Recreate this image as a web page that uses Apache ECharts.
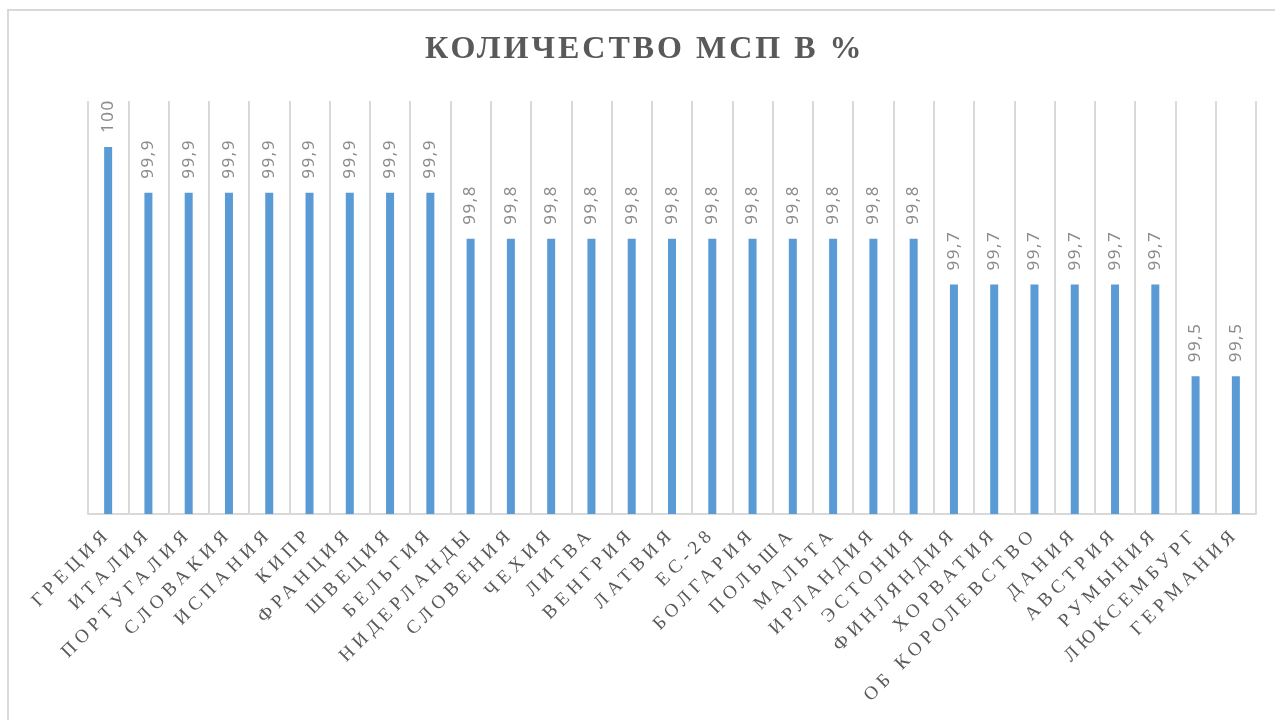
<!DOCTYPE html>
<html>
<head>
<meta charset="utf-8">
<script src="https://cdn.jsdelivr.net/npm/echarts@6/dist/echarts.min.js"></script>
<style>
html,body{margin:0;padding:0;background:#fff;}
#chart{width:1275px;height:720px;}
</style>
</head>
<body>
<div id="chart"></div>
<script>
const titleText = 'КОЛИЧЕСТВО МСП В %';
const categories = ['ГРЕЦИЯ','ИТАЛИЯ','ПОРТУГАЛИЯ','СЛОВАКИЯ','ИСПАНИЯ','КИПР','ФРАНЦИЯ','ШВЕЦИЯ','БЕЛЬГИЯ','НИДЕРЛАНДЫ','СЛОВЕНИЯ','ЧЕХИЯ','ЛИТВА','ВЕНГРИЯ','ЛАТВИЯ','ЕС-28','БОЛГАРИЯ','ПОЛЬША','МАЛЬТА','ИРЛАНДИЯ','ЭСТОНИЯ','ФИНЛЯНДИЯ','ХОРВАТИЯ','ОБ КОРОЛЕВСТВО','ДАНИЯ','АВСТРИЯ','РУМЫНИЯ','ЛЮКСЕМБУРГ','ГЕРМАНИЯ'];
const values = [100,99.9,99.9,99.9,99.9,99.9,99.9,99.9,99.9,99.8,99.8,99.8,99.8,99.8,99.8,99.8,99.8,99.8,99.8,99.8,99.8,99.7,99.7,99.7,99.7,99.7,99.7,99.5,99.5];

// letter spacing (as in the original Office chart) applied per font when text is drawn
(function () {
  const proto = CanvasRenderingContext2D.prototype;
  if (!('letterSpacing' in proto)) return;
  const orig = proto.fillText;
  proto.fillText = function (t, x, y, m) {
    const f = this.font || '';
    let ls = '0px';
    if (/Liberation Serif/.test(f) && /bold/.test(f)) ls = '3px';
    else if (/Liberation Serif/.test(f)) ls = '5px';
    else if (/Noto Sans/.test(f)) ls = '1.5px';
    this.letterSpacing = ls;
    return m === undefined ? orig.call(this, t, x, y) : orig.call(this, t, x, y, m);
  };
})();

const chart = echarts.init(document.getElementById('chart'));
chart.setOption({
  backgroundColor: '#ffffff',
  animation: false,
  graphic: [{
    type: 'rect',
    shape: {x: 8, y: 10, width: 1400, height: 900},
    style: {fill: 'none', stroke: '#d9d9d9', lineWidth: 2},
    silent: true,
    z: -1
  }],
  title: {
    text: titleText,
    left: 425,
    textAlign: 'left',
    top: 34,
    padding: 0,
    textStyle: {fontFamily: 'Liberation Serif', fontWeight: 'bold', fontSize: 32, color: '#595959'}
  },
  grid: {left: 88, right: 19, top: 101, bottom: 206, containLabel: false},
  xAxis: {
    type: 'category',
    data: categories,
    axisLine: {show: true, lineStyle: {color: '#d9d9d9', width: 2}},
    axisTick: {show: false},
    splitLine: {show: true, lineStyle: {color: '#d9d9d9', width: 2}},
    axisLabel: {
      interval: 0,
      rotate: 45,
      margin: 17,
      fontFamily: 'Liberation Serif',
      fontSize: 19,
      color: '#595959'
    }
  },
  yAxis: {
    type: 'value',
    min: 99.2,
    max: 100.1,
    show: false,
    splitLine: {show: false}
  },
  series: [{
    type: 'bar',
    data: values,
    barWidth: 8,
    itemStyle: {color: '#5b9bd5'},
    label: {
      show: true,
      position: 'top',
      distance: 14,
      rotate: 90,
      align: 'left',
      verticalAlign: 'middle',
      fontFamily: 'Noto Sans',
      fontSize: 17,
      color: '#8c8c8c',
      formatter: p => String(p.value).replace('.', ',')
    }
  }]
});
</script>
</body>
</html>
